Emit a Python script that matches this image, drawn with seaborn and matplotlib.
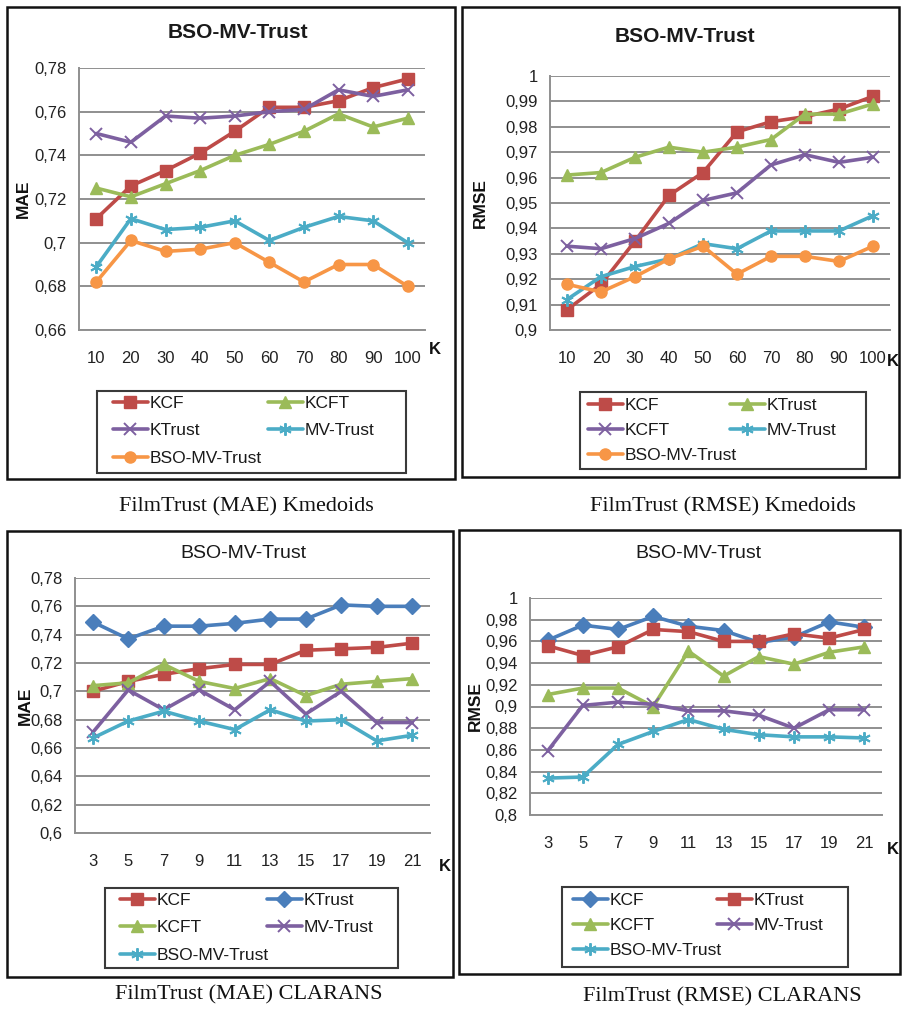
import matplotlib
matplotlib.use("Agg")
import numpy as np
import pandas as pd
import matplotlib.pyplot as plt
import seaborn as sns
from matplotlib import font_manager
from matplotlib.patches import Rectangle
from matplotlib.ticker import MultipleLocator, FuncFormatter

# ---------------- data ----------------
k_kmedoids = [10, 20, 30, 40, 50, 60, 70, 80, 90, 100]
k_clarans = [3, 5, 7, 9, 11, 13, 15, 17, 19, 21]

# FilmTrust (MAE) Kmedoids
mae_km_kcf = [0.711, 0.726, 0.733, 0.741, 0.751, 0.762, 0.762, 0.765, 0.771, 0.775]
mae_km_kcft = [0.725, 0.721, 0.727, 0.733, 0.740, 0.745, 0.751, 0.759, 0.753, 0.757]
mae_km_ktrust = [0.750, 0.746, 0.758, 0.757, 0.758, 0.760, 0.761, 0.770, 0.767, 0.770]
mae_km_mvtrust = [0.689, 0.711, 0.706, 0.707, 0.710, 0.701, 0.707, 0.712, 0.710, 0.700]
mae_km_bso = [0.682, 0.701, 0.696, 0.697, 0.700, 0.691, 0.682, 0.690, 0.690, 0.680]

# FilmTrust (RMSE) Kmedoids
rmse_km_kcf = [0.908, 0.918, 0.935, 0.953, 0.962, 0.978, 0.982, 0.984, 0.987, 0.992]
rmse_km_ktrust = [0.961, 0.962, 0.968, 0.972, 0.970, 0.972, 0.975, 0.985, 0.985, 0.989]
rmse_km_kcft = [0.933, 0.932, 0.936, 0.942, 0.951, 0.954, 0.965, 0.969, 0.966, 0.968]
rmse_km_mvtrust = [0.912, 0.921, 0.925, 0.928, 0.934, 0.932, 0.939, 0.939, 0.939, 0.945]
rmse_km_bso = [0.918, 0.915, 0.921, 0.928, 0.933, 0.922, 0.929, 0.929, 0.927, 0.933]

# FilmTrust (MAE) CLARANS
mae_cl_kcf = [0.700, 0.707, 0.712, 0.716, 0.719, 0.719, 0.729, 0.730, 0.731, 0.734]
mae_cl_ktrust = [0.749, 0.737, 0.746, 0.746, 0.748, 0.751, 0.751, 0.761, 0.760, 0.760]
mae_cl_kcft = [0.704, 0.706, 0.719, 0.707, 0.702, 0.709, 0.697, 0.705, 0.707, 0.709]
mae_cl_mvtrust = [0.671, 0.701, 0.687, 0.701, 0.687, 0.707, 0.684, 0.700, 0.678, 0.678]
mae_cl_bso = [0.667, 0.679, 0.686, 0.679, 0.673, 0.687, 0.679, 0.680, 0.665, 0.669]

# FilmTrust (RMSE) CLARANS
rmse_cl_kcf = [0.961, 0.975, 0.971, 0.983, 0.974, 0.970, 0.959, 0.964, 0.978, 0.973]
rmse_cl_ktrust = [0.956, 0.947, 0.955, 0.971, 0.969, 0.960, 0.960, 0.967, 0.963, 0.971]
rmse_cl_kcft = [0.911, 0.917, 0.917, 0.900, 0.951, 0.928, 0.946, 0.939, 0.950, 0.955]
rmse_cl_mvtrust = [0.859, 0.901, 0.904, 0.902, 0.896, 0.896, 0.892, 0.880, 0.897, 0.897]
rmse_cl_bso = [0.834, 0.835, 0.865, 0.877, 0.888, 0.879, 0.874, 0.872, 0.872, 0.871]

chart_title = "BSO-MV-Trust"
captions = ["FilmTrust (MAE) Kmedoids", "FilmTrust (RMSE) Kmedoids",
            "FilmTrust (MAE) CLARANS", "FilmTrust (RMSE) CLARANS"]

# ---------------- style ----------------
RED, GREEN, PURPLE = "#BE4B48", "#9BBB59", "#7D60A0"
CYAN, ORANGE, BLUE = "#4BACC6", "#F79646", "#4A7EBB"
ASTER = (6, 2, 0)

sns.set_style("white")


def pick(*names):
    for n in names:
        try:
            font_manager.findfont(font_manager.FontProperties(family=n),
                                  fallback_to_default=False)
            return n
        except Exception:
            pass
    return "DejaVu Sans"


NARROW = pick("Liberation Sans Narrow", "Liberation Sans", "Arial")
SANS = pick("Liberation Sans", "DejaVu Sans")
SERIF = pick("Liberation Serif", "DejaVu Serif")
plt.rcParams["font.family"] = [NARROW, "DejaVu Sans"]

W, H = 902, 1010
fig = plt.figure(figsize=(W / 100, H / 100), dpi=100)
fig.patch.set_facecolor("white")


def fx(x):
    return x / W


def fy(y):
    return 1 - y / H


def fmt(v, _pos=None):
    return f"{round(v, 4):g}".replace(".", ",")


panels = [
    dict(k=k_kmedoids, ylabel="MAE", ylim=(0.66, 0.78), step=0.02,
         box=(79, 425, 68, 330), frame=(7, 455, 7, 479),
         title_xy=(238, 33), title_bold=True, ylab_x=31, klab=(435, 342),
         cap_xy=(246, 507),
         leg_box=(97, 406, 391, 473), leg_top=396, leg_cols=(113, 268),
         leg_sp=0.7,
         series=[("KCF", mae_km_kcf, RED, "s"),
                 ("KCFT", mae_km_kcft, GREEN, "^"),
                 ("KTrust", mae_km_ktrust, PURPLE, "x"),
                 ("MV-Trust", mae_km_mvtrust, CYAN, ASTER),
                 ("BSO-MV-Trust", mae_km_bso, ORANGE, "o")]),
    dict(k=k_kmedoids, ylabel="RMSE", ylim=(0.90, 1.00), step=0.01,
         box=(550, 890, 76, 330), frame=(462, 899, 7, 477),
         title_xy=(685, 37), title_bold=True, ylab_x=488, klab=(893, 354),
         cap_xy=(723, 507),
         leg_box=(580, 866, 392, 469), leg_top=398, leg_cols=(588, 730),
         leg_sp=0.57,
         series=[("KCF", rmse_km_kcf, RED, "s"),
                 ("KTrust", rmse_km_ktrust, GREEN, "^"),
                 ("KCFT", rmse_km_kcft, PURPLE, "x"),
                 ("MV-Trust", rmse_km_mvtrust, CYAN, ASTER),
                 ("BSO-MV-Trust", rmse_km_bso, ORANGE, "o")]),
    dict(k=k_clarans, ylabel="MAE", ylim=(0.60, 0.78), step=0.02,
         box=(75, 430, 578, 833), frame=(7, 453, 531, 977),
         title_xy=(243, 553), title_bold=False, ylab_x=33, klab=(445, 859),
         cap_xy=(249, 995),
         leg_box=(105, 398, 888, 968), leg_top=893, leg_cols=(120, 267),
         leg_sp=0.7,
         series=[("KCF", mae_cl_kcf, RED, "s"),
                 ("KTrust", mae_cl_ktrust, BLUE, "D"),
                 ("KCFT", mae_cl_kcft, GREEN, "^"),
                 ("MV-Trust", mae_cl_mvtrust, PURPLE, "x"),
                 ("BSO-MV-Trust", mae_cl_bso, CYAN, ASTER)]),
    dict(k=k_clarans, ylabel="RMSE", ylim=(0.80, 1.00), step=0.02,
         box=(530, 882, 598, 815), frame=(459, 900, 530, 974),
         title_xy=(698, 553), title_bold=False, ylab_x=483, klab=(893, 842),
         cap_xy=(722, 997),
         leg_box=(562, 848, 887, 967), leg_top=893, leg_cols=(573, 717),
         leg_sp=0.57,
         series=[("KCF", rmse_cl_kcf, BLUE, "D"),
                 ("KTrust", rmse_cl_ktrust, RED, "s"),
                 ("KCFT", rmse_cl_kcft, GREEN, "^"),
                 ("MV-Trust", rmse_cl_mvtrust, PURPLE, "x"),
                 ("BSO-MV-Trust", rmse_cl_bso, CYAN, ASTER)]),
]

GRID = "#8f8f8f"

for idx, p in enumerate(panels):
    l, r, t, b = p["box"]
    ax = fig.add_axes([fx(l), fy(b), fx(r - l), (b - t) / H])
    pos = np.arange(len(p["k"]))
    for name, vals, col, mk in p["series"]:
        df = pd.DataFrame({"pos": pos, "val": vals})
        filled = mk not in ("x", ASTER)
        sns.lineplot(data=df, x="pos", y="val", ax=ax, color=col, lw=2.6,
                     marker=mk, markersize=8 if filled else 9,
                     markeredgecolor=col, markerfacecolor=col,
                     markeredgewidth=1.0 if filled else 1.4,
                     label=name, legend=False, errorbar=None)
    ax.set_xlim(-0.5, len(pos) - 0.5)
    ax.set_ylim(*p["ylim"])
    ax.yaxis.set_major_locator(MultipleLocator(p["step"]))
    ax.yaxis.set_major_formatter(FuncFormatter(fmt))
    ax.set_xticks(pos)
    ax.set_xticklabels([str(k) for k in p["k"]])
    ax.tick_params(axis="x", length=0, pad=15, labelsize=12, labelcolor="#222222")
    ax.tick_params(axis="y", length=0, pad=9, labelsize=12, labelcolor="#222222")
    ax.yaxis.grid(True, color=GRID, lw=1.4)
    ax.xaxis.grid(False)
    ax.set_axisbelow(True)
    for s in ("top", "right"):
        ax.spines[s].set_visible(False)
    for s in ("left", "bottom"):
        ax.spines[s].set_color(GRID)
        ax.spines[s].set_linewidth(1.4)
    ax.set_facecolor("white")

    ax.set_ylabel(p["ylabel"], fontsize=12.5, fontweight="bold", family=SANS,
                  color="#111111")
    ax.yaxis.set_label_coords(fx(p["ylab_x"]), fy((t + b) / 2),
                              transform=fig.transFigure)
    ax.set_xlabel("K", fontsize=12, fontweight="bold", family=SANS,
                  color="#111111")
    ax.xaxis.set_label_coords(fx(p["klab"][0]), fy(p["klab"][1]),
                              transform=fig.transFigure)

    tx, ty = p["title_xy"]
    fig.text(fx(tx), fy(ty), chart_title, ha="center", va="center",
             fontsize=15 if p["title_bold"] else 14,
             fontweight="bold" if p["title_bold"] else "normal",
             color="#1a1a1a")

    # legend: two columns, row-major order as in the reference
    handles, labels = ax.get_legend_handles_labels()
    for cols, cx in zip(([0, 2, 4], [1, 3]), p["leg_cols"]):
        leg = fig.legend([handles[i] for i in cols], [labels[i] for i in cols],
                         ncol=1, loc="upper left",
                         bbox_to_anchor=(fx(cx), fy(p["leg_top"])),
                         bbox_transform=fig.transFigure, frameon=False,
                         borderpad=0, borderaxespad=0, handlelength=2.0,
                         handletextpad=0.1, labelspacing=p["leg_sp"],
                         fontsize=12.5)
        for txt in leg.get_texts():
            txt.set_color("#1a1a1a")
    lx0, lx1, ly0, ly1 = p["leg_box"]
    fig.patches.append(Rectangle((fx(lx0), fy(ly1)), fx(lx1 - lx0),
                                 (ly1 - ly0) / H, transform=fig.transFigure,
                                 fill=False, edgecolor="#3a3a3a", lw=1.5))

    # panel frame
    f0, f1, g0, g1 = p["frame"]
    fig.patches.append(Rectangle((fx(f0), fy(g1)), fx(f1 - f0), (g1 - g0) / H,
                                 transform=fig.transFigure, fill=False,
                                 edgecolor="#111111", lw=1.8))

    cx, cy = p["cap_xy"]
    fig.text(fx(cx), fy(cy), captions[idx], ha="center",
             va="center", fontsize=16, family=SERIF, color="#111111")

fig.savefig("out.png", dpi=100, facecolor="white")
